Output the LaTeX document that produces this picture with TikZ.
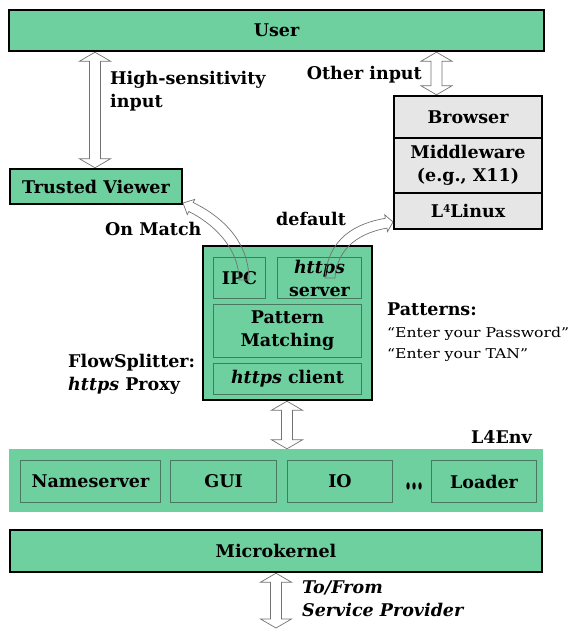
\documentclass[tikz,border=0pt]{standalone}
\usepackage{fontspec}
\usepackage{graphicx}
\setmainfont{DejaVu Serif}
\usetikzlibrary{calc}
\pgfdeclarelayer{behind}
\pgfsetlayers{behind,main}

\definecolor{flowgreen}{RGB}{110,207,159}
\definecolor{stackgray}{RGB}{230,230,230}
\definecolor{cellline}{RGB}{72,120,96}
\definecolor{pipegray}{RGB}{115,115,115}

\tikzset{
  lbl/.style={font=\bfseries\fontsize{17.5}{23}\selectfont, inner sep=0pt, align=center},
  heavybox/.style={lbl, draw=black, line width=2.4pt, fill=flowgreen},
  graybox/.style={lbl, draw=black, line width=2.4pt, fill=stackgray},
  cellbox/.style={lbl, draw=cellline, line width=0.9pt, fill=flowgreen},
  envband/.style={fill=flowgreen, inner sep=0pt},
  pipe/.style={draw=pipegray, line width=0.7pt, fill=white, line join=miter},
  pipeline/.style={draw=pipegray, line width=0.7pt, line join=miter},
  note/.style={font=\fontsize{13.5}{22}\selectfont, inner sep=0pt},
}

% small raised digit, as in L4Linux
\newcommand\upfour{\raisebox{5.5pt}{\fontsize{10.5}{10.5}\selectfont 4}}

% hollow vertical double-headed block arrow between two points on one vertical
\newcommand\hollowupdown[2]{%
  \draw[pipe] let \p1=#1, \p2=#2 in
    (\x1,\y1) -- (\x1+15.5pt,\y1-9pt) -- (\x1+5.5pt,\y1-9pt) -- (\x1+5.5pt,\y2+9pt)
    -- (\x1+15.5pt,\y2+9pt) -- (\x1,\y2) -- (\x1-15.5pt,\y2+9pt) -- (\x1-5.5pt,\y2+9pt)
    -- (\x1-5.5pt,\y1-9pt) -- (\x1-15.5pt,\y1-9pt) -- cycle;}

\begin{document}
\begin{tikzpicture}[x=1pt,y=-1pt]
\useasboundingbox (0,0) rectangle (571,629);

% top layer: user
\node[heavybox, minimum width=535pt, minimum height=41pt] (user) at (276.5,30.5) {User};

% legacy stack
\node[graybox, minimum width=148pt, minimum height=42pt] (browser) at (468,117) {Browser};
\node[graybox, minimum width=148pt, minimum height=55pt] (mw) at (468,165.5) {Middleware\\(e.g., X11)};
\node[graybox, minimum width=148pt, minimum height=36pt] (l4l) at (468,211) {L\upfour Linux};

% trusted viewer
\node[heavybox, minimum width=172pt, minimum height=35pt] (tv) at (96,186.5) {Trusted Viewer};

% flow splitter proxy and its parts
\node[heavybox, minimum width=169pt, minimum height=154pt] (fs) at (287.5,323) {};
\node[cellbox, minimum width=52pt, minimum height=41pt] (ipc) at (239.5,278) {IPC};
\node[cellbox, minimum width=84pt, minimum height=41pt] (srv) at (319.5,278) {\textit{https}\\server};
\node[cellbox, minimum width=148pt, minimum height=53pt] (pm) at (287.5,331) {Pattern\\Matching};
\node[cellbox, minimum width=148pt, minimum height=31pt] (cli) at (287.5,379) {\textit{https} client};

% L4Env servers
\node[envband, minimum width=534pt, minimum height=63pt] (env) at (276,480.5) {};
\node[cellbox, minimum width=140pt, minimum height=42pt] (ns) at (90.5,481.5) {Nameserver};
\node[cellbox, minimum width=106pt, minimum height=42pt] (gui) at (223.5,481.5) {GUI};
\node[cellbox, minimum width=105pt, minimum height=42pt] (io) at (340,481.5) {IO};
\node[cellbox, minimum width=105pt, minimum height=42pt] (ld) at (484,481.5) {Loader};
\node[lbl, anchor=base] (more) at (414.5,489) {\scalebox{1}[2.2]{...}};
\node[lbl, anchor=base east] (envname) at (532,443) {L4Env};

% microkernel
\node[heavybox, minimum width=532pt, minimum height=42pt] (mk) at (276,551) {Microkernel};

% labels
\node[lbl, align=left, anchor=north west] (hsi) at (110,71.5) {High-sensitivity\\input};
\node[lbl, anchor=base east] (oth) at (422,79) {Other input};
\node[lbl, anchor=base west] (onm) at (105,235) {On Match};
\node[lbl, anchor=base west] (dflt) at (276,225) {default};
\node[lbl, align=left, anchor=north west] (fsname) at (68,353.5) {FlowSplitter:\\\textit{https} Proxy};
\node[lbl, anchor=base west] (pat) at (387,315) {Patterns:};
\node[note, anchor=base west] (pat1) at (387,337) {\scalebox{1.16}[1]{“Enter your Password”}};
\node[note, anchor=base west] (pat2) at (387,358) {\scalebox{1.16}[1]{“Enter your TAN”}};
\node[lbl, align=left, anchor=north west] (sp) at (302,580.5) {\textit{To/From}\\\textit{Service Provider}};

% straight two-way channels
\coordinate (lx) at (95,0);
\coordinate (rx) at (436.5,0);
\coordinate (mx) at (287,0);
\coordinate (bx) at (276,0);
\coordinate (spout) at (276,628);
\begin{pgfonlayer}{behind}
  \hollowupdown{(user.south -| lx)}{(tv.north -| lx)}
  \hollowupdown{(user.south -| rx)}{(browser.north -| rx)}
  \hollowupdown{(fs.south -| mx)}{(env.north -| mx)}
  \hollowupdown{(mk.south -| bx)}{(spout)}
\end{pgfonlayer}

% routed flows leaving the proxy
\coordinate (ipcA) at (239,280);
\coordinate (ipcB) at (249,280);
\coordinate (tvtip) at (183,203);
\draw[pipeline] (ipcA) .. controls (239,246) and (210.4,222.1) .. (188.8,211.5)
  -- (187.3,214.6) -- (tvtip) -- (194.7,199.4) -- (193.2,202.5)
  .. controls (220.2,215.7) and (249,240) .. (ipcB) -- cycle;

\coordinate (srvA) at (325,278);
\coordinate (srvB) at (335,278);
\coordinate (l4tip) at (393,222);
\draw[pipeline] (srvA) .. controls (328,238) and (355.7,223.4) .. (385.3,218.3)
  -- (384.7,214.8) -- (l4tip) -- (387.5,231.6) -- (387,228.1)
  .. controls (362.3,232.4) and (337,246) .. (srvB) -- cycle;
\end{tikzpicture}
\end{document}
